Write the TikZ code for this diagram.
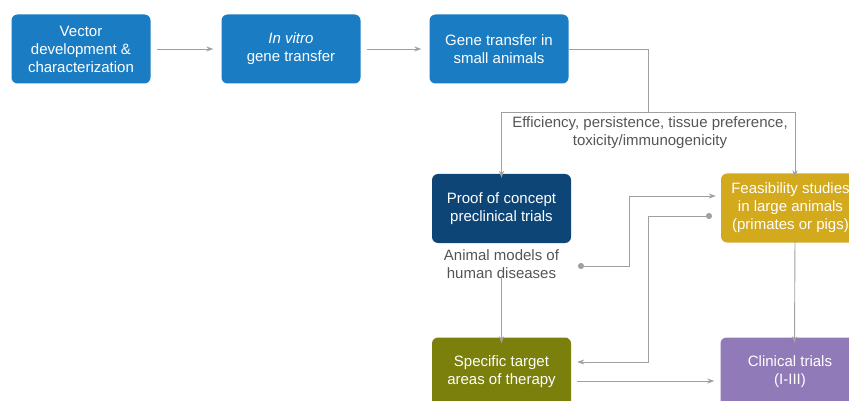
\documentclass[tikz,border=0pt]{standalone}
\usepackage{fontspec}
\setmainfont{Liberation Sans}
\usetikzlibrary{arrows.meta}
\definecolor{cblue}{HTML}{1A7CC2}
\definecolor{cdark}{HTML}{0E4577}
\definecolor{cgold}{HTML}{D3A91D}
\definecolor{colive}{HTML}{7A800B}
\definecolor{cpurple}{HTML}{907AB7}
\definecolor{cline}{HTML}{A0A0A0}
\definecolor{ctext}{HTML}{555555}
\tikzset{
  box/.style={rounded corners=6pt, minimum width=139pt, minimum height=69pt, align=center, text=white, font=\fontsize{15}{18}\selectfont, inner sep=0pt},
  conn/.style={draw=cline, line width=0.9pt, -{Stealth[length=7pt,width=5pt]}},
  dotconn/.style={draw=cline, line width=0.9pt, {Circle[length=6pt]}-{Stealth[length=7pt,width=5pt]}},
  lbl/.style={text=ctext, align=center, font=\fontsize{15}{18}\selectfont, inner sep=1pt}
}
\begin{document}
\begin{tikzpicture}[x=1pt,y=-1pt]
\useasboundingbox (0,0) rectangle (849,401);
\node[box, fill=cblue] (vec) at (81,49) {Vector\\development \&\\characterization};
\node[box, fill=cblue] (vitro) at (291,49) {\textit{In vitro}\\gene transfer};
\node[box, fill=cblue] (small) at (499,49) {Gene transfer in\\small animals};
\node[box, fill=cdark] (proof) at (501.5,208.5) {Proof of concept\\preclinical trials};
\node[box, fill=cgold] (feas) at (790.5,208) {Feasibility studies\\in large animals\\(primates or pigs)};
\node[box, fill=colive] (spec) at (501.5,372) {Specific target\\areas of therapy};
\node[box, fill=cpurple] (clin) at (790,372) {Clinical trials\\(I-III)};
\node[lbl] (eff) at (650,133) {Efficiency, persistence, tissue preference,\\toxicity/immunogenicity};
\node[lbl] (anim) at (501.5,264.5) {Animal models of\\human diseases};
\coordinate (split) at (648,112);
\coordinate (dotA) at (578,266);
\coordinate (dotB) at (712,216);

\draw[conn] ([xshift=6pt]vec.east) -- ([xshift=-8pt]vitro.west);
\draw[conn] ([xshift=6pt]vitro.east) -- ([xshift=-8pt]small.west);
\draw[draw=cline, line width=0.9pt] (small.east) -| (split);
\draw[conn] (split) -| ([yshift=-4pt]proof.north);
\draw[conn] (split) -| ([xshift=4.5pt,yshift=-4pt]feas.north);
\draw[dotconn] (dotA) -| (629,196) -- ([xshift=-5pt]feas.west |- 0,196);
\draw[dotconn] (dotB) -| (648,362) -- ([xshift=6pt]spec.east |- 0,362);
\draw[conn] ([yshift=4pt]anim.south) -- ([yshift=-6pt]spec.north);
\draw[conn] ([xshift=4.5pt,yshift=5pt]feas.south) -- ([xshift=4.5pt,yshift=-6pt]clin.north);
\draw[conn] ([xshift=6pt]spec.east |- 0,381) -- ([xshift=-6pt]clin.west |- 0,381);
\end{tikzpicture}
\end{document}
